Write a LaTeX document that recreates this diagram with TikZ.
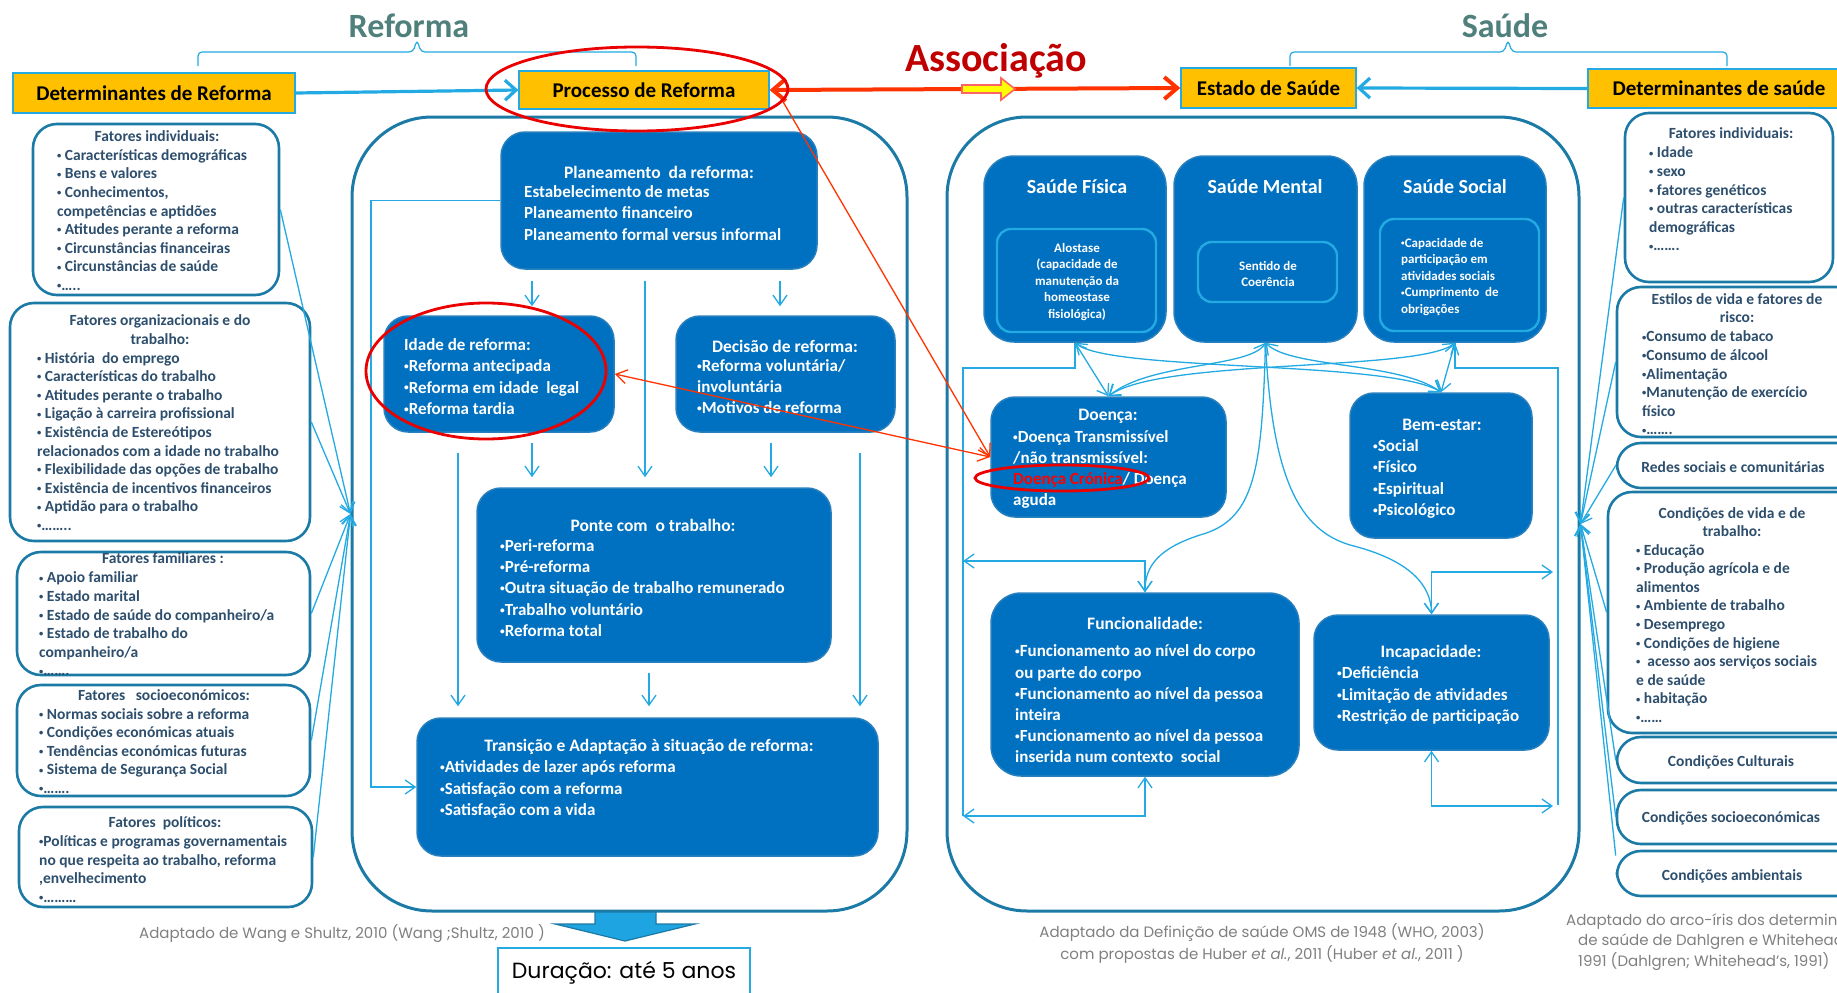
\documentclass[tikz,border=0pt]{standalone}
\usepackage{fontspec}
\usepackage{graphicx}
\setmainfont{Carlito}
\newfontfamily\poppfont{Poppins}
\usetikzlibrary{arrows.meta,fit,calc,shapes.geometric}
\newcommand{\bul}{\raisebox{0.12em}{\scalebox{0.55}{•}}}
\definecolor{boxblue}{RGB}{0,112,192}
\definecolor{boxedge}{RGB}{40,128,190}
\definecolor{lightblue}{RGB}{36,170,226}
\definecolor{frameblue}{RGB}{28,122,166}
\definecolor{sidetxt}{RGB}{45,78,108}
\definecolor{orangefill}{RGB}{255,192,0}
\definecolor{titlegray}{RGB}{80,128,124}
\definecolor{assocred}{RGB}{192,0,0}
\definecolor{arrred}{RGB}{255,51,0}
\definecolor{ellred}{RGB}{235,0,0}
\definecolor{footgray}{RGB}{128,128,128}
\definecolor{yellowarr}{RGB}{255,255,0}
\definecolor{pinkedge}{RGB}{255,100,100}
\definecolor{blockfill}{RGB}{30,165,225}
\tikzset{
  sidebox/.style={draw=frameblue, line width=2.6pt, rounded corners=24pt, fill=white, inner sep=0pt},
  container/.style={draw=frameblue, line width=3pt, rounded corners=80pt, inner sep=0pt},
  bluebox/.style={draw=boxedge, line width=1.5pt, fill=boxblue, rounded corners=24pt, inner sep=0pt},
  smallbox/.style={draw=lightblue, line width=2.4pt, fill=boxblue, rounded corners=14pt, inner sep=0pt},
  orangebox/.style={draw=lightblue, line width=1.3pt, fill=orangefill, inner sep=0pt, font=\fontsize{21}{25}\selectfont\bfseries, text=black},
  sidetitle/.style={font=\fontsize{15.5}{18.6}\selectfont\bfseries, text=sidetxt, inner sep=0pt, align=center},
  sidelist/.style={font=\fontsize{15.5}{18.6}\selectfont\bfseries, text=sidetxt, inner sep=0pt, align=left, anchor=west},
  wtitle/.style={font=\fontsize{17.5}{21.2}\selectfont\bfseries, text=white, inner sep=0pt},
  wlist/.style={font=\fontsize{17}{21.2}\selectfont\bfseries, text=white, inner sep=0pt, align=left, anchor=west},
  htitle/.style={font=\fontsize{20}{24}\selectfont\bfseries, text=white, inner sep=0pt},
  smalltxt/.style={font=\fontsize{13}{16.5}\selectfont\bfseries, text=white, inner sep=0pt},
  bigtitle/.style={font=\fontsize{34}{38}\selectfont\bfseries, text=titlegray, inner sep=0pt},
  foot/.style={font=\poppfont\fontsize{15}{22}\selectfont, text=footgray, inner sep=0pt},
  conn/.style={draw=lightblue, line width=1.3pt},
  arr/.style={conn, -{Straight Barb[length=10pt,width=14pt]}},
  darr/.style={conn, {Straight Barb[length=10pt,width=14pt]}-{Straight Barb[length=10pt,width=14pt]}},
  bigblue/.style={draw=lightblue, line width=3.2pt, -{Straight Barb[length=11pt,width=20pt]}},
  redthick/.style={draw=arrred, line width=4pt, {Straight Barb[length=13pt,width=22pt]}-{Straight Barb[length=13pt,width=22pt]}},
  redthin/.style={draw=arrred, line width=1.3pt},
  redell/.style={draw=ellred, line width=2.8pt, ellipse, inner sep=0pt},
  brace/.style={draw=lightblue, line width=1.2pt, rounded corners=4pt}
}
\begin{document}
\begin{tikzpicture}[x=1pt,y=-1pt]
\useasboundingbox (0,0) rectangle (1837,993);
\clip (0,0) rectangle (1837,993);
\fill[white] (0,0) rectangle (1837,993);

% ---------- titles ----------
\node[bigtitle, anchor=base] (tref) at (409,37) {Reforma};
\node[bigtitle, anchor=base] (tsau) at (1505,37) {Saúde};
\draw[brace] (198,66) -- (198,52) -- (413,52) -- (417,40) -- (421,52) -- (636,52) -- (636,66);
\draw[brace] (1290,66) -- (1290,52) -- (1504,52) -- (1508,40) -- (1512,52) -- (1727,52) -- (1727,66);
\node[anchor=base, font=\fontsize{40}{44}\selectfont\bfseries, text=assocred, inner sep=0pt] (assoc) at (996,71) {Associação};

% ---------- containers ----------
\node[container, fit={(352,117) (907,911)}] (lcont) {};
\node[container, fit={(947,117) (1579,911)}] (rcont) {};

% ---------- orange boxes ----------
\node[orangebox, minimum width=282pt, minimum height=40pt] (detref) at (154,93) {Determinantes de Reforma};
\node[orangebox, minimum width=250pt, minimum height=38pt] (proc) at (644,90) {Processo de Reforma};
\node[orangebox, minimum width=175pt, minimum height=40pt] (estado) at (1268.5,88) {Estado de Saúde};
\node[orangebox, minimum width=262pt, minimum height=39pt] (detsau) at (1719,88.5) {Determinantes de saúde};
\draw[bigblue] (detref.east) -- (proc.west);
\draw[bigblue] (detsau.west) -- (estado.east);
\draw[redthick] (proc.east) -- (estado.west);
\draw[fill=yellowarr, draw=pinkedge, line width=1.6pt] (962,85) -- (1001,85) -- (1001,78) -- (1015,89) -- (1001,100) -- (1001,93) -- (962,93) -- cycle;

% ---------- left side boxes ----------
\node[sidebox, fit={(33,124) (279,295)}] (L1) {};
\node[sidebox, fit={(10,303) (310,541)}] (L2) {};
\node[sidebox, fit={(17,552) (310,675)}] (L3) {};
\node[sidebox, fit={(17,685) (310,796)}] (L4) {};
\node[sidebox, fit={(19,807) (312,907)}] (L5) {};

\node[sidetitle] (L1t) at (157,136) {Fatores individuais:};
\node[sidelist] (L1l) at (57,220) {\bul{} Características demográficas\\\bul{} Bens e valores\\\bul{} Conhecimentos,\\competências e aptidões\\\bul{} Atitudes perante a reforma\\\bul{} Circunstâncias financeiras\\\bul{} Circunstâncias de saúde\\\bul…..};
\node[sidetitle] (L2t) at (160,329.5) {Fatores organizacionais e do\\trabalho:};
\node[sidelist] (L2l) at (37,441.5) {\bul{} História~ do emprego\\\bul{} Características do trabalho\\\bul{} Atitudes perante o trabalho\\\bul{} Ligação à carreira profissional\\\bul{} Existência de Estereótipos\\relacionados com a idade no trabalho\\\bul{} Flexibilidade das opções de trabalho\\\bul{} Existência de incentivos financeiros\\\bul{} Aptidão para o trabalho\\\bul……..};
\node[sidetitle] (L3t) at (163,558) {Fatores familiares :};
\node[sidelist] (L3l) at (39,624) {\bul{} Apoio familiar\\\bul{} Estado marital\\\bul{} Estado de saúde do companheiro/a\\\bul{} Estado de trabalho do\\companheiro/a\\\bul…….};
\node[sidetitle] (L4t) at (164,695) {Fatores~~ socioeconómicos:};
\node[sidelist] (L4l) at (39,751) {\bul{} Normas sociais sobre a reforma\\\bul{} Condições económicas atuais\\\bul{} Tendências económicas futuras\\\bul{} Sistema de Segurança Social\\\bul…….};
\node[sidetitle] (L5t) at (165,823) {Fatores~ políticos:};
\node[sidelist] (L5l) at (39,869) {\bul Políticas e programas governamentais\\no que respeita ao trabalho, reforma\\,envelhecimento\\\bul………};

\draw[arr] (L1.east) -- (lcont.west);
\draw[arr] (L2.east) -- (lcont.west);
\draw[arr] (L3.east) -- (lcont.west);
\draw[arr] (L4.east) -- (lcont.west);
\draw[arr] (L5.east) -- (lcont.west);

% ---------- right side boxes ----------
\node[sidebox, fit={(1625,113) (1833,282)}] (R1) {};
\node[sidebox, fit={(1617,287) (1860,437)}] (R2) {};
\node[sidebox, fit={(1617,443) (1860,488)}] (R3) {};
\node[sidebox, fit={(1608,492) (1860,733)}] (R4) {};
\node[sidebox, fit={(1617,737) (1860,783)}] (R5) {};
\node[sidebox, fit={(1617,790) (1860,844)}] (R6) {};
\node[sidebox, fit={(1617,851) (1860,896)}] (R7) {};

\node[sidetitle] (R1t) at (1731,133) {Fatores individuais:};
\node[sidelist] (R1l) at (1649,199) {\bul{} Idade\\\bul{} sexo\\\bul{} fatores genéticos\\\bul{} outras características\\demográficas\\\bul…….};
\node[sidetitle] (R2t) at (1737,308) {Estilos de vida e fatores de\\risco:};
\node[sidelist] (R2l) at (1642,383) {\bul Consumo de tabaco\\\bul Consumo de álcool\\\bul Alimentação\\\bul Manutenção de exercício\\físico\\\bul…….};
\node[sidetitle] (R3t) at (1733,467) {Redes sociais e comunitárias};
\node[sidetitle] (R4t) at (1732,522) {Condições de vida e de\\trabalho:};
\node[sidelist] (R4l) at (1636,633.5) {\bul{} Educação\\\bul{} Produção agrícola e de\\alimentos\\\bul{} Ambiente de trabalho\\\bul{} Desemprego\\\bul{} Condições de higiene\\\bul{}~ acesso aos serviços sociais\\e de saúde\\\bul{} habitação\\\bul……};
\node[sidetitle] (R5t) at (1731,762) {Condições Culturais};
\node[sidetitle] (R6t) at (1731,818) {Condições socioeconómicas};
\node[sidetitle] (R7t) at (1732,876) {Condições ambientais};

\coordinate (rconv) at ($(rcont.east)+(0,10)$);
\draw[arr] (R1.west) -- (rconv);
\draw[arr] (R2.west) -- (rconv);
\draw[arr] (R3.west) -- (rconv);
\draw[arr] (R4.west) -- (rconv);
\draw[arr] (R5.west) -- (rconv);
\draw[arr] (R6.west) -- (rconv);
\draw[arr] ($(R7.west)+(0,-18)$) -- (rconv);

% ---------- Reforma process boxes ----------
\node[bluebox, fit={(501,132) (817,269)}] (plan) {};
\node[bluebox, fit={(384,316) (614,432)}] (idade) {};
\node[bluebox, fit={(676,316) (895,432)}] (decisao) {};
\node[bluebox, fit={(477,488) (831,662)}] (ponte) {};
\node[bluebox, fit={(417,718) (878,856)}] (trans) {};

\node[wtitle] (plant) at (659,172) {Planeamento~ da reforma:};
\node[wlist] (planl) at (524,213) {Estabelecimento de metas\\Planeamento financeiro\\Planeamento formal versus informal};
\node[wlist] (idadel) at (404,376.5) {Idade de reforma:\\\bul Reforma antecipada\\\bul Reforma em idade~ legal\\\bul Reforma tardia};
\node[wtitle] (decisaot) at (785,346) {Decisão de reforma:};
\node[wlist] (decisaol) at (697,386.5) {\bul Reforma voluntária/\\involuntária\\\bul Motivos de reforma};
\node[wtitle] (pontet) at (653,525) {Ponte com~ o trabalho:};
\node[wlist] (pontel) at (500,588) {\bul Peri-reforma\\\bul Pré-reforma\\\bul Outra situação de trabalho remunerado\\\bul Trabalho voluntário\\\bul Reforma total};
\node[wtitle] (transt) at (649,747) {Transição e Adaptação à situação de reforma:};
\node[wlist] (transl) at (440,789.5) {\bul Atividades de lazer após reforma\\\bul Satisfação com a reforma\\\bul Satisfação com a vida};

\coordinate (xa) at (532,0);
\coordinate (xb) at (645,0);
\coordinate (xc) at (780,0);
\coordinate (xd) at (771,0);
\coordinate (xe) at (458,0);
\coordinate (xf) at (860,0);
\coordinate (xg) at (649,0);
\draw[arr, shorten <=11pt, shorten >=9pt] (plan.south -| xa) -- (idade.north -| xa);
\draw[arr, shorten <=11pt, shorten >=10pt] (plan.south -| xb) -- (ponte.north -| xb);
\draw[arr, shorten <=11pt, shorten >=9pt] (plan.south -| xc) -- (decisao.north -| xc);
\draw[arr, shorten <=10pt, shorten >=10pt] (idade.south -| xa) -- (ponte.north -| xa);
\draw[arr, shorten <=10pt, shorten >=10pt] (decisao.south -| xd) -- (ponte.north -| xd);
\draw[arr, shorten <=20pt, shorten >=11pt] (idade.south -| xe) -- (trans.north -| xe);
\draw[arr, shorten <=20pt, shorten >=11pt] (decisao.south -| xf) -- (trans.north -| xf);
\draw[arr, shorten <=10pt, shorten >=11pt] (ponte.south -| xg) -- (trans.north -| xg);
\coordinate (pl0) at (371,200.5);
\draw[arr] (plan.west) -- (pl0) |- (trans.west);

% ---------- Saude boxes ----------
\node[bluebox, rounded corners=30pt, fit={(984,156) (1166,342)}] (fisica) {};
\node[bluebox, rounded corners=30pt, fit={(1174,156) (1357,342)}] (mental) {};
\node[bluebox, rounded corners=30pt, fit={(1364,156) (1546,342)}] (social) {};
\node[smallbox, fit={(997,229) (1156,332)}] (fisin) {};
\node[smallbox, fit={(1198,242) (1337,302)}] (menin) {};
\node[smallbox, fit={(1380,219) (1539,331)}] (socin) {};
\node[htitle] (fisicat) at (1077,187) {Saúde Física};
\node[htitle] (mentalt) at (1265,187) {Saúde Mental};
\node[htitle] (socialt) at (1455,187) {Saúde Social};
\node[smalltxt, align=center] (fisint) at (1077,282) {Alostase\\(capacidade de\\manutenção da\\homeostase\\fisiológica)};
\node[smalltxt, align=center] (menint) at (1268,274) {Sentido de\\Coerência};
\node[smalltxt, align=left, anchor=west] (socint) at (1401,277) {\bul Capacidade de\\participação em\\atividades sociais\\\bul Cumprimento~ de\\obrigações};

\node[bluebox, fit={(991,397) (1226,517)}] (doenca) {};
\node[bluebox, fit={(1350,393) (1532,538)}] (bem) {};
\node[bluebox, rounded corners=30pt, fit={(991,593) (1299,776)}] (func) {};
\node[bluebox, fit={(1314,615) (1549,750)}] (incap) {};

\node[wtitle] (doencat) at (1108,416) {Doença:};
\node[wlist] (doencal) at (1013,469.5) {\bul Doença Transmissível\\/não transmissível:\\\textcolor{red}{Doença Crónica}/ Doença\\aguda};
\node[wtitle] (bemt) at (1442,425) {Bem-estar:};
\node[wlist] (beml) at (1373,479) {\bul Social\\\bul Físico\\\bul Espiritual\\\bul Psicológico};
\node[wtitle] (funct) at (1145,623) {Funcionalidade:};
\node[wlist] (funcl) at (1015,704) {\bul Funcionamento ao nível do corpo\\ou parte do corpo\\\bul Funcionamento ao nível da pessoa\\inteira\\\bul Funcionamento ao nível da pessoa\\inserida num contexto~ social};
\node[wtitle] (incapt) at (1431,653) {Incapacidade:};
\node[wlist] (incapl) at (1337,695.5) {\bul Deficiência\\\bul Limitação de atividades\\\bul Restrição de participação};

% Saude connectors
\draw[darr] (fisica.south) -- (doenca.north);
\draw[darr] (social.south) -- (bem.north);
\draw[darr] (mental.south) .. controls (1250,368) and (1150,362) .. (doenca.north);
\draw[darr] (social.south) .. controls (1420,372) and (1160,358) .. (doenca.north);
\draw[darr] (fisica.south) .. controls (1110,372) and (1390,360) .. (bem.north);
\draw[darr] (mental.south) .. controls (1290,368) and (1400,362) .. (bem.north);
\draw[arr] (mental.south) .. controls (1262,470) and (1255,520) .. (1200,535) .. controls (1160,548) and (1145,565) .. (func.north);
\draw[arr] (mental.south) .. controls (1272,480) and (1300,530) .. (1350,545) .. controls (1410,560) and (1431,585) .. (incap.north);

\coordinate (fl0) at (963,368);
\coordinate (fl1) at (963,561);
\coordinate (fl3) at (963,816);
\coordinate (fr0) at (1558,368);
\coordinate (fr1) at (1553,572);
\coordinate (fr2) at (1553,806);
\coordinate (fr3) at (1558,805);
\draw[conn] (fisica.south) |- (fl0) -- (fl3);
\draw[darr] (fl1) -| (func.north);
\draw[darr] (fl3) -| (func.south);
\draw[conn] (social.south) |- (fr0) -- (fr3);
\draw[darr] (fr1) -| (incap.north);
\draw[darr] (fr2) -| (incap.south);

% ---------- red highlights ----------
\draw[redthin, -{Straight Barb[length=11pt,width=14pt]}] ([shift={(10,6)}]proc.east) -- (doenca.west);
\draw[redthin, {Straight Barb[length=11pt,width=14pt]}-{Straight Barb[length=11pt,width=14pt]}] (idade.east) -- (doenca.west);
\node[redell, minimum width=302pt, minimum height=84pt] (e1) at (637,89) {};
\node[redell, minimum width=240pt, minimum height=136pt] (e2) at (486,371) {};
\node[redell, minimum width=174pt, minimum height=26pt] (e3) at (1062,478) {};

% ---------- bottom ----------
\draw[fill=blockfill, draw=frameblue, line width=1.2pt] (595,912) -- (656,912) -- (656,924) -- (695,924) -- (625,941) -- (555,924) -- (595,924) -- cycle;
\node[draw=lightblue, line width=1.3pt, inner sep=0pt, fit={(498,948) (750,1010)}] (durbox) {};
\node[font=\poppfont\fontsize{22}{26}\selectfont, text=black, inner sep=0pt] (durtxt) at (624,973) {Duração: até 5 anos};

\node[foot] (footl) at (342,934) {Adaptado de Wang e Shultz, 2010 (Wang ;Shultz, 2010 )};
\node[foot, align=center] (footm) at (1262,943) {Adaptado da Definição de saúde OMS de 1948 (WHO, 2003)\\com propostas de Huber \textit{et al.}, 2011 (Huber \textit{et al.}, 2011 )};
\node[foot, anchor=west] (footr1) at (1566,922) {Adaptado do arco-íris dos determinantes};
\node[foot, anchor=west] (footr2) at (1578,942) {de saúde de Dahlgren e Whitehead’s};
\node[foot, anchor=west] (footr3) at (1578,962) {1991 (Dahlgren; Whitehead’s, 1991)};
\end{tikzpicture}
\end{document}
